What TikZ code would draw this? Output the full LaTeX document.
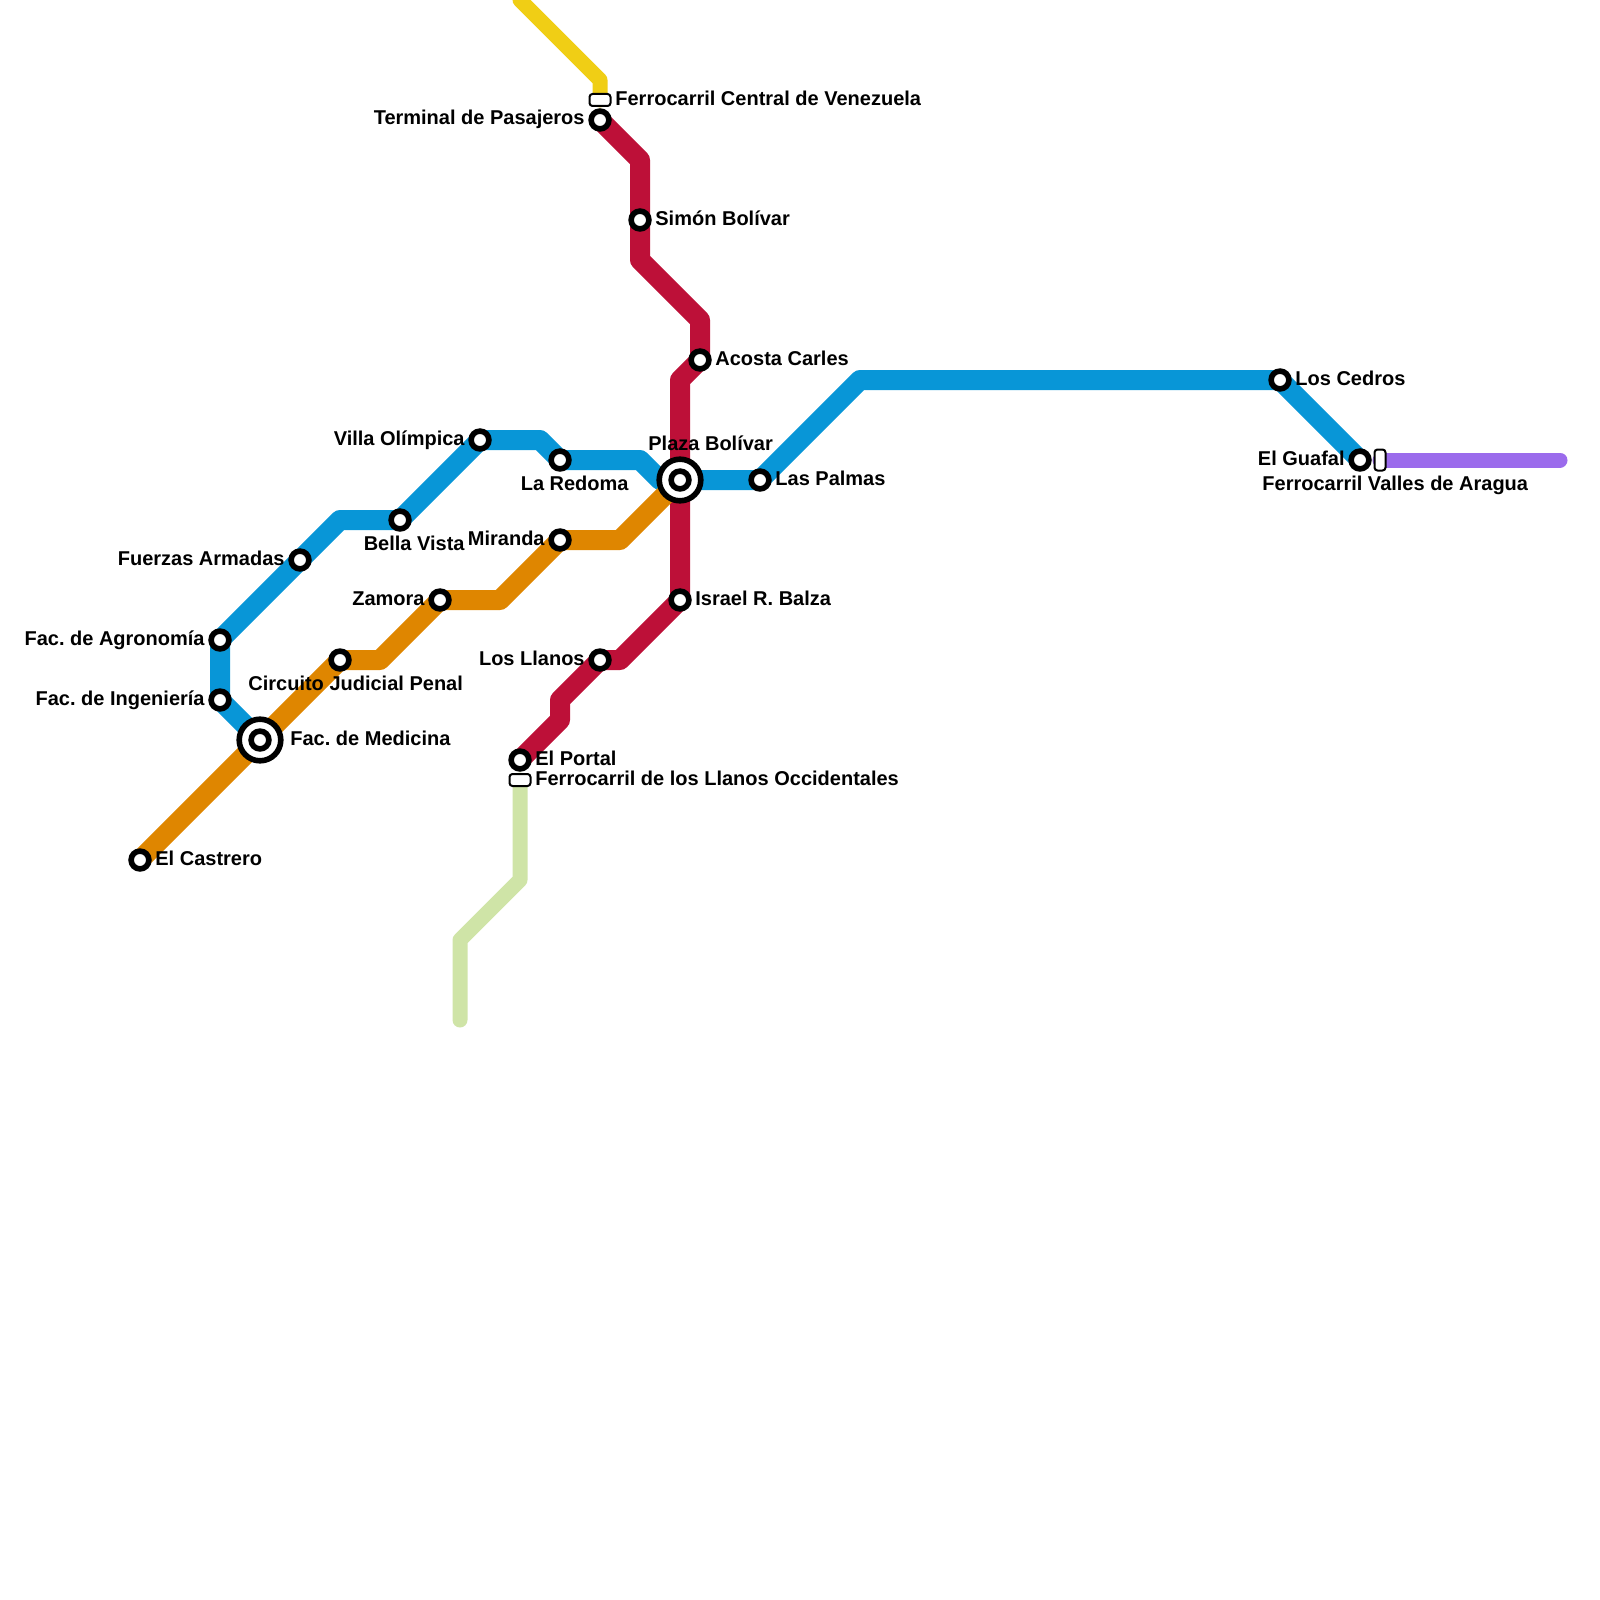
\documentclass[tikz,border=0pt]{standalone}
\usepackage{fontspec}
\setmainfont{Liberation Sans}
\usetikzlibrary{backgrounds}
\definecolor{lineblue}{HTML}{0896D7}
\definecolor{linered}{HTML}{BD1038}
\definecolor{lineorange}{HTML}{DF8600}
\definecolor{lineyellow}{HTML}{F0CE15}
\definecolor{linegreen}{HTML}{CFE4A7}
\definecolor{linepurple}{HTML}{9B6BEC}
\frenchspacing
\tikzset{
  station/.style={circle,draw=black,fill=white,line width=2.8pt,inner sep=0pt,minimum size=8.9pt},
  hub/.style={circle,draw=black,fill=white,line width=2.8pt,inner sep=0pt,minimum size=20.8pt},
  railbox/.style={rectangle,rounded corners=1.5pt,draw=black,fill=white,line width=1pt,inner sep=0pt},
  lbl/.style={font=\fontsize{10}{10}\selectfont\bfseries,inner sep=0pt},
  metro/.style={line width=10pt,line join=round},
  rail/.style={line width=7.5pt,line join=round,line cap=round},
}
\begin{document}
\begin{tikzpicture}[x=0.5pt,y=-0.5pt]
    \useasboundingbox (0,0) rectangle (1600,1600);

    % stations
    \node [hub] (plaza) at (680,480) {};
    \node [station] (plazain) at (680,480) {};
    \node [hub] (medicina) at (260,740) {};
    \node [station] (medicinain) at (260,740) {};
    \node [station] (terminal) at (600,120) {};
    \node [station] (simon) at (640,220) {};
    \node [station] (acosta) at (700,360) {};
    \node [station] (balza) at (680,600) {};
    \node [station] (llanos) at (600,660) {};
    \node [station] (portal) at (520,760) {};
    \node [station] (agronomia) at (220,640) {};
    \node [station] (ingenieria) at (220,700) {};
    \node [station] (armadas) at (300,560) {};
    \node [station] (bella) at (400,520) {};
    \node [station] (villa) at (480,440) {};
    \node [station] (redoma) at (560,460) {};
    \node [station] (palmas) at (760,480) {};
    \node [station] (cedros) at (1280,380) {};
    \node [station] (guafal) at (1360,460) {};
    \node [station] (castrero) at (140,860) {};
    \node [station] (circuito) at (340,660) {};
    \node [station] (zamora) at (440,600) {};
    \node [station] (miranda) at (560,540) {};
    \node [railbox,minimum width=10.5pt,minimum height=6pt] (central) at (600,100) {};
    \node [railbox,minimum width=10.5pt,minimum height=6pt] (occidente) at (520,780) {};
    \node [railbox,minimum width=5.5pt,minimum height=10.5pt] (aragua) at (1380,460) {};
    \coordinate (yellowend) at (520,0);
    \coordinate (greenend) at (460,1020);
    \coordinate (purpleend) at (1560,460);

    \begin{pgfonlayer}{background}
        \draw [rail,lineyellow] (yellowend) -- (600,80) -- (central.center);
        \draw [rail,linegreen] (occidente.center) -- (520,880) -- (460,940) -- (greenend);
        \draw [rail,linepurple] (aragua.center) -- (purpleend);
        \draw [metro,linered] (terminal.center) -- (640,160) -- (simon.center) -- (640,260) -- (700,320)
            -- (acosta.center) -- (680,380) -- (plaza.center) -- (balza.center) -- (620,660)
            -- (llanos.center) -- (560,700) -- (560,720) -- (portal.center);
        \draw [metro,lineblue] (agronomia.center) -- (armadas.center) -- (340,520) -- (bella.center)
            -- (villa.center) -- (540,440) -- (redoma.center) -- (640,460) -- (660,480)
            -- (plaza.center) -- (palmas.center) -- (860,380) -- (cedros.center) -- (guafal.center);
        \draw [metro,lineblue] (agronomia.center) -- (ingenieria.center) -- (medicina.center);
        \draw [metro,lineorange] (castrero.center) -- (medicina.center) -- (circuito.center) -- (380,660)
            -- (zamora.center) -- (500,600) -- (miranda.center) -- (620,540) -- (plaza.center);
    \end{pgfonlayer}

    \node [lbl,anchor=base west] (centraltxt) at (615,105) {Ferrocarril Central de Venezuela};
    \node [lbl,anchor=base east] (terminaltxt) at (585,125) {Terminal de Pasajeros};
    \node [lbl,anchor=base west] (simontxt) at (655,225) {Simón Bolívar};
    \node [lbl,anchor=base west] (acostatxt) at (715,365) {Acosta Carles};
    \node [lbl,anchor=base west] (plazatxt) at (648,450) {Plaza Bolívar};
    \node [lbl,anchor=base east] (redomatxt) at (629,490) {La Redoma};
    \node [lbl,anchor=base west] (palmastxt) at (775,485) {Las Palmas};
    \node [lbl,anchor=base west] (cedrostxt) at (1295,385) {Los Cedros};
    \node [lbl,anchor=base east] (guafaltxt) at (1345,465) {El Guafal};
    \node [lbl,anchor=base west] (araguatxt) at (1262,490) {Ferrocarril Valles de Aragua};
    \node [lbl,anchor=base east] (villatxt) at (465,445) {Villa Olímpica};
    \node [lbl,anchor=base east] (bellatxt) at (465,550) {Bella Vista};
    \node [lbl,anchor=base east] (mirandatxt) at (545,545) {Miranda};
    \node [lbl,anchor=base east] (zamoratxt) at (425,605) {Zamora};
    \node [lbl,anchor=base east] (armadastxt) at (285,565) {Fuerzas Armadas};
    \node [lbl,anchor=base east] (agronomiatxt) at (205,645) {Fac. de Agronomía};
    \node [lbl,anchor=base east] (ingenieriatxt) at (205,705) {Fac. de Ingeniería};
    \node [lbl,anchor=base west] (circuitotxt) at (248,690) {Circuito Judicial Penal};
    \node [lbl,anchor=base west] (medicinatxt) at (290,745) {Fac. de Medicina};
    \node [lbl,anchor=base west] (castrerotxt) at (155,865) {El Castrero};
    \node [lbl,anchor=base west] (balzatxt) at (695,605) {Israel R. Balza};
    \node [lbl,anchor=base east] (llanostxt) at (585,665) {Los Llanos};
    \node [lbl,anchor=base west] (portaltxt) at (535,765) {El Portal};
    \node [lbl,anchor=base west] (occidentetxt) at (535,785) {Ferrocarril de los Llanos Occidentales};
\end{tikzpicture}
\end{document}
